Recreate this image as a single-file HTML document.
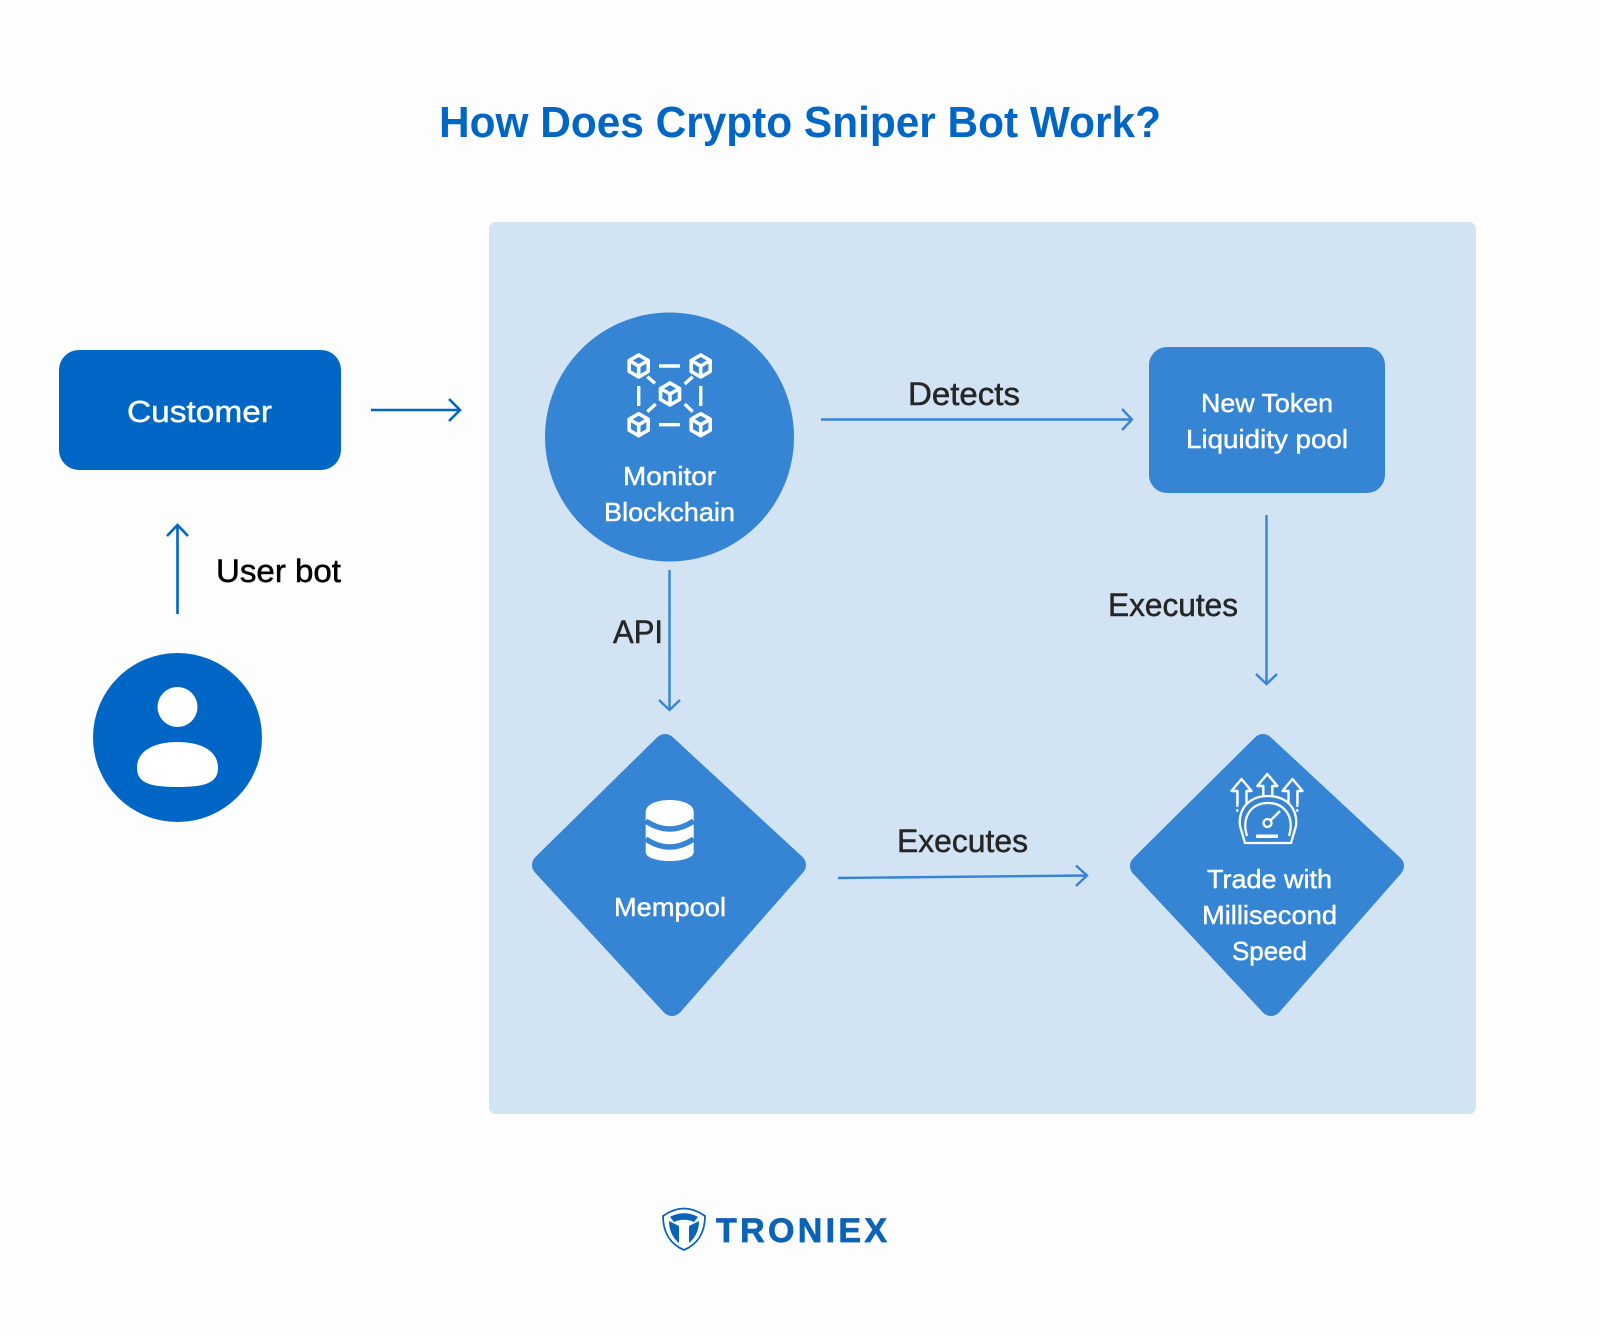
<!DOCTYPE html>
<html><head><meta charset="utf-8"><style>
html,body{margin:0;padding:0;background:#fdfdfd}
svg{display:block}
text{font-family:"Liberation Sans",sans-serif;text-anchor:start}
.w{fill:#fff;font-size:26px;stroke:#fff;stroke-width:.45px}
.d{fill:#262626;font-size:32px;stroke:#262626;stroke-width:.5px}
</style></head><body>
<svg width="1600" height="1336" viewBox="0 0 1600 1336" xmlns="http://www.w3.org/2000/svg">
<defs>
<g id="cube" fill="none" stroke="#fff" stroke-width="3.600" stroke-linejoin="round">
<path d="M0-11 9.500-5.500V5.500L0 11-9.500 5.500V-5.500Z"/><path d="M-9.500-5.500 0 0 9.500-5.500M0 0V11"/>
</g>
<g id="up" fill="none" stroke="#fff" stroke-width="2.400" stroke-linejoin="round">
<path d="M-4 14V0H-10L0-12 10 0H5V14"/>
</g>
</defs>
<rect width="1600" height="1336" fill="#fdfdfd"/>
<text x="439" y="137" font-size="44" font-weight="700" fill="#0066c5" textLength="722" lengthAdjust="spacingAndGlyphs">How Does Crypto Sniper Bot Work?</text>
<rect x="489" y="222" width="987" height="892" rx="7" fill="#d2e4f3"/>

<!-- Customer -->
<rect x="59" y="350" width="282" height="120" rx="20" fill="#0066c5"/>
<text class="w" x="127" y="422" style="font-size:31px" textLength="145" lengthAdjust="spacingAndGlyphs">Customer</text>
<g fill="none" stroke="#0066c5" stroke-width="2.600">
<path d="M371 410H460M449 399 460 410 449 421"/>
<path d="M177.500 614V525M167 536 177.500 525 188 536"/>
</g>
<text x="216" y="582" font-size="32" fill="#000" stroke="#000" stroke-width=".5" textLength="125" lengthAdjust="spacingAndGlyphs">User bot</text>
<circle cx="177.500" cy="737.500" r="84.500" fill="#0066c5"/>
<circle cx="177.500" cy="707" r="20" fill="#fff"/>
<path d="M137 768C137 750 155 742 177.500 742S218 750 218 768C218 783 205 787 177.500 787S137 783 137 768Z" fill="#fff"/>

<!-- Monitor -->
<circle cx="669.500" cy="437" r="124.500" fill="#3585d4"/>
<use href="#cube" x="638.700" y="366"/><use href="#cube" x="700.700" y="366"/>
<use href="#cube" x="670" y="394"/>
<use href="#cube" x="638.700" y="424.700"/><use href="#cube" x="700.700" y="424.700"/>
<path d="M659 366H680M659 424.700H680M638.700 386V406M700.700 386V406M647.300 376.700 655 383.300M692.700 376.700 684.700 384M647.300 411.700 655.700 404M692.700 411.700 684.700 404" stroke="#fff" stroke-width="3.400" fill="none"/>
<text class="w" x="623" y="485" textLength="93" lengthAdjust="spacingAndGlyphs">Monitor</text>
<text class="w" x="604" y="521" textLength="131" lengthAdjust="spacingAndGlyphs">Blockchain</text>

<!-- Token -->
<rect x="1149" y="347" width="236" height="146" rx="18" fill="#3585d4"/>
<text class="w" x="1201" y="412" textLength="132" lengthAdjust="spacingAndGlyphs">New Token</text>
<text class="w" x="1186" y="448" textLength="162" lengthAdjust="spacingAndGlyphs">Liquidity pool</text>

<!-- Mempool -->
<polygon points="665,745 795,865 672,1005 543,865" fill="#3585d4" stroke="#3585d4" stroke-width="22" stroke-linejoin="round"/>
<path d="M645.700 812C645.700 796 693.700 796 693.700 812V852C693.700 864 645.700 864 645.700 852Z" fill="#fff"/>
<path d="M645.700 821Q669.700 837 693.700 821M645.700 839Q669.700 855 693.700 839" fill="none" stroke="#3585d4" stroke-width="5.500"/>
<text class="w" x="614" y="916" textLength="112" lengthAdjust="spacingAndGlyphs">Mempool</text>

<!-- Trade -->
<polygon points="1263,745 1393,866 1271,1005 1141,866" fill="#3585d4" stroke="#3585d4" stroke-width="22" stroke-linejoin="round"/>
<use href="#up" x="1241.500" y="791"/><use href="#up" x="1267.300" y="786"/><use href="#up" x="1292.500" y="791"/>
<path d="M1237.300 793V812M1297.300 793V812" stroke="#fff" stroke-width="2" stroke-dasharray="14 2 3 1" fill="none"/>
<g fill="none" stroke="#fff" stroke-width="2.300">
<path d="M1245 843 1240 826C1238 808 1250 796 1268 796S1298 808 1296 826L1291 843Z" fill="#3585d4"/>
<path d="M1247 836C1241 816 1252 803 1268 803S1295 816 1289 836"/>
<circle cx="1267.500" cy="823" r="4"/>
<path d="M1271 820 1280 811"/>
</g>
<rect x="1256" y="834.500" width="22" height="3.500" fill="#fff"/>
<text class="w" x="1207" y="888" textLength="125" lengthAdjust="spacingAndGlyphs">Trade with</text>
<text class="w" x="1202" y="924" textLength="135" lengthAdjust="spacingAndGlyphs">Millisecond</text>
<text class="w" x="1232" y="960" textLength="75" lengthAdjust="spacingAndGlyphs">Speed</text>

<!-- Connectors -->
<g fill="none" stroke="#3585d4" stroke-width="2.400">
<path d="M821 419.500H1132M1122 409 1132 419.500 1122 430"/>
<path d="M669.500 570V710M659 700 669.500 710 680 700"/>
<path d="M1266.500 515V684M1256 674 1266.500 684 1277 674"/>
<path d="M838 878 1087 875.500M1076 865.500 1087 875.500 1076 886"/>
</g>
<text class="d" x="908" y="405" textLength="112" lengthAdjust="spacingAndGlyphs">Detects</text>
<text class="d" x="1108" y="616" textLength="130" lengthAdjust="spacingAndGlyphs">Executes</text>
<text class="d" x="613" y="643" textLength="50" lengthAdjust="spacingAndGlyphs">API</text>
<text class="d" x="897" y="852" textLength="131" lengthAdjust="spacingAndGlyphs">Executes</text>

<!-- Logo -->
<path d="M663 1216C677 1206 691 1206 705 1216 705 1232 698 1244 684 1250 670 1244 663 1232 663 1216Z" fill="#fff" stroke="#0a63b5" stroke-width="1.800"/>
<path d="M670 1217C678 1212 690 1212 698 1217L694 1222C688 1219 680 1219 674 1222Z" fill="#0a63b5"/>
<path d="M669 1221 679 1226V1243C673 1238 669 1231 669 1221ZM699 1221 689 1226V1243C695 1238 699 1231 699 1221Z" fill="#0a63b5"/>
<text x="716" y="1242" font-size="34" font-weight="700" fill="#0a63b5" stroke="#0a63b5" stroke-width=".7" textLength="171" lengthAdjust="spacing">TRONIEX</text>
</svg>
</body></html>
